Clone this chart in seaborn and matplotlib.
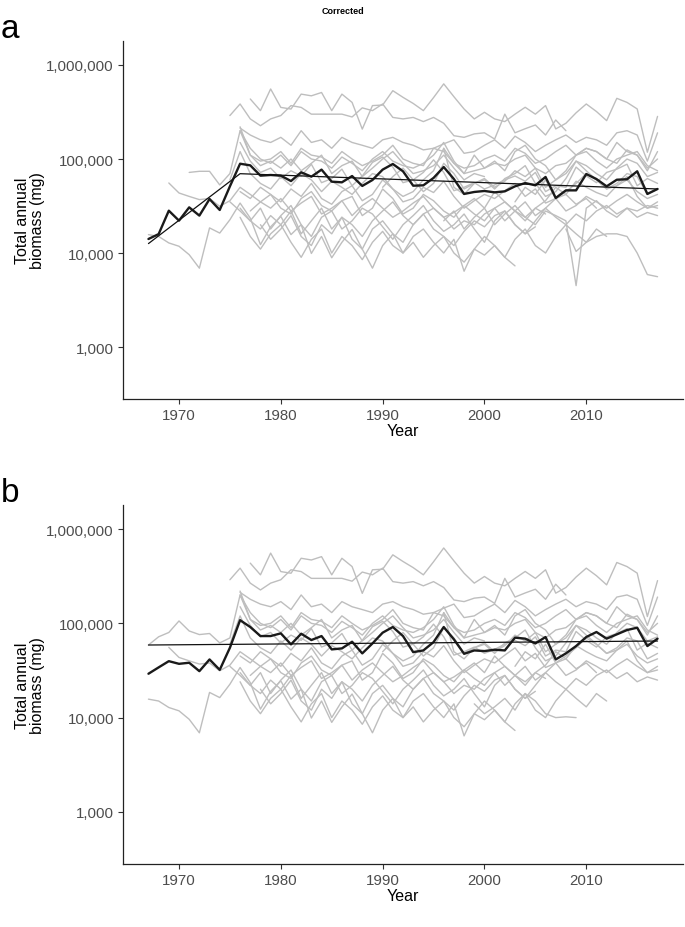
import numpy as np
import pandas as pd
import matplotlib
matplotlib.use("Agg")
import matplotlib.pyplot as plt
import seaborn as sns
from matplotlib.ticker import FuncFormatter, FixedLocator

sns.set_theme(style="ticks")
plt.rcParams['font.family'] = ['Liberation Sans', 'DejaVu Sans']

# ---------------- data ----------------
mean_years = list(range(1967, 2018))
mean_a = [14100, 15900, 28200, 22100, 30600, 25000, 37500, 28700, 51200, 89100,
          85600, 66500, 67600, 66500, 58300, 72200, 64900, 77100, 57400, 56500,
          65900, 51700, 59800, 77100, 88500, 74000, 52000, 52500, 62900, 82200,
          61200, 42500, 44600, 45700, 44200, 45300, 51200, 55500, 52500, 64400,
          38500, 46400, 46400, 69200, 61200, 51200, 60200, 60900, 74000, 42500,
          48000]
mean_b = [29200, 34100, 39700, 37200, 38200, 31100, 41400, 32100, 55100, 108000,
          91400, 73300, 73300, 78300, 59800, 77600, 66500, 73300, 52900, 54200,
          63800, 48000, 61200, 79600, 91400, 73300, 49500, 51600, 63200, 91400,
          67600, 47500, 51600, 50800, 52500, 51600, 70500, 68800, 61200, 71600,
          41400, 48000, 57400, 71600, 80900, 68800, 76400, 84900, 89900, 57400,
          68800]
trend_a_years = [1967, 1976, 2017]
trend_a_vals = [12600, 69800, 48000]
trend_b_years = [1967, 2017]
trend_b_vals = [58900, 64900]

# site series (thousand mg), first year then yearly values
s01 = [435, 327, 556, 354, 340, 490, 470, 510, 327, 490, 400, 208, 370, 375, 533,
       453, 390, 327, 450, 630, 460, 340, 267, 314, 267, 250, 300, 355, 300, 370,
       209, 240, 310, 385, 320, 256, 442, 400, 341, 118, 284]
s02 = [290, 385, 267, 226, 267, 290, 370, 354, 300, 300, 300, 300, 280, 350, 327,
       385, 277, 267, 277, 250, 277, 240, 177, 170, 185, 190, 163, 300, 190, 210,
       230, 180, 260, 200]
s03 = [213, 180, 160, 150, 170, 140, 200, 150, 160, 130, 170, 150, 140, 130, 160,
       170, 150, 140, 125, 130, 145, 160, 115, 120, 140, 160, 130, 175, 150, 120,
       140, 160, 180, 150, 170, 160, 140, 190, 200, 180, 95, 190]
s04 = [220, 110, 95, 100, 120, 90, 130, 110, 105, 90, 120, 100, 85, 95, 110,
       140, 100, 90, 85, 130, 120, 90, 80, 85, 100, 110, 95, 130, 115, 90,
       100, 120, 140, 110, 130, 120, 100, 150, 120, 110, 80, 100]
s05 = [150, 95, 72, 80, 62, 75, 66, 88, 56, 62, 78, 52, 66, 92, 105, 82, 56, 60,
       72, 98, 72, 46, 50, 56, 48, 53, 60, 66, 58, 72, 45, 52, 50, 82, 66, 56, 72,
       78, 88, 52, 62, 55]
s06 = [60, 120, 70, 55, 48, 65, 52, 70, 60, 45, 58, 50, 42, 55, 70, 65, 48, 40,
       45, 60, 75, 130, 50, 42, 55, 60, 48, 62, 70, 85, 55, 40, 45, 62, 95, 75,
       60, 48, 55, 70, 65, 42, 48]
s07 = [45, 38, 50, 42, 35, 48, 40, 55, 38, 33, 45, 52, 36, 42, 60, 48, 35, 38,
       50, 44, 58, 40, 30, 36, 42, 38, 46, 55, 40, 48, 34, 38, 42, 58, 50, 44,
       40, 52, 60, 45, 38, 42]
s08 = [28, 35, 42, 30, 26, 38, 45, 32, 28, 36, 40, 25, 30, 48, 38, 26, 30, 42,
       36, 28, 24, 32, 38, 30, 45, 35, 28, 22, 30, 36, 50, 42, 33, 38, 30]
s09 = [30, 22, 18, 25, 20, 28, 16, 22, 30, 18, 24, 20, 15, 22, 28, 35, 25, 20,
       26, 30, 24, 18, 22, 20, 26, 30, 22, 28, 35, 25, 30, 38, 28, 32, 40, 35,
       30, 36, 42, 35, 30, 32]
s10 = [20, 14, 18, 25, 15, 12, 20, 16, 24, 14, 11, 18, 22, 16, 13, 20, 26, 18,
       15, 12, 17, 22, 19, 25, 28, 20, 16, 22, 30, 24, 20, 26, 22, 28, 32, 26,
       30, 24, 27, 25]
s11 = [35, 28, 22, 30, 18, 25, 32, 20, 15, 24, 28, 18, 22, 30, 26, 19, 14, 20,
       25, 32, 22, 17, 20, 26, 18, 13, 22, 28, 20, 16, 19]
s12 = [24, 15, 11, 16, 20, 13, 9, 14, 18, 10, 15, 12, 8.5, 13, 17, 12, 10, 15,
       18, 13, 10, 14, 6.4, 11, 15, 12, 9, 14, 18, 12, 10, 15, 20, 16, 13, 18, 15]
s13 = [15.7, 15.0, 12.8, 11.8, 9.6, 6.9, 18.5, 16.3, 22.6, 34, 23.5, 12.3, 19,
       24.5, 15.7, 20, 9.9, 15, 8.9, 13, 17.8, 11, 6.9, 12, 16, 10, 13, 9, 12,
       15, 10, 8, 11, 9.5, 12, 9, 7.3]
s14 = [55.6, 43.5, 40, 37, 38, 31.4, 36, 50, 42, 35, 30, 38, 28, 34, 40, 26, 30,
       36, 25, 32, 38, 30, 24, 28, 34, 40, 30, 24, 27, 32, 26, 22, 30, 35, 28,
       24, 30, 26]
s15 = [72, 74, 74, 53, 70, 200, 110, 85, 95, 80, 100, 75, 90, 110, 70, 85, 95,
       65, 80, 100, 120, 90, 70, 75, 85, 110, 80, 60, 70, 65]
s15b = [58.9, 72, 80, 106, 83, 76, 78, 62, 70, 200, 110, 85, 95, 80, 100, 75, 90,
        110, 70, 85, 95, 65, 80, 100, 120, 90, 70, 75, 85, 110, 80, 60, 70, 65]
s16 = [50, 65, 80, 60, 45, 55, 90, 70, 48, 55, 62, 50, 58, 75, 65, 80, 50, 60,
       70, 95, 85, 70, 60, 80, 100, 90, 65, 72]
s17 = [130, 90, 70, 110, 80, 95, 75, 120, 140, 100, 85, 60, 75, 110, 130, 120,
       100, 90, 125, 110, 75, 120]
s18 = [35, 50, 42, 60, 38, 45, 55, 70, 60, 48, 52, 65, 40, 30, 35]
s19 = [200, 130, 100, 90, 110, 85, 120, 100, 95, 80, 105, 90, 75, 100, 120, 95,
       85, 80, 90, 110, 150, 95, 70, 75, 80, 90, 85, 100, 110, 80, 70, 85, 90,
       110, 120, 95, 80, 100, 110, 120, 85, 75]
s20a = [22, 28, 18, 24, 30, 20, 26, 32, 24, 20, 28, 25, 22, 4.5, 30, 36, 28, 24,
        30, 28, 32, 30]
s21a = [18, 10.4, 13, 15, 16, 16, 15, 10, 5.9, 5.6]
s21b = [14, 11, 13, 16, 12, 18, 15, 11, 10, 10.2, 10]

sites_a = [(1977, s01), (1975, s02), (1976, s03), (1976, s04), (1976, s05),
           (1975, s06), (1976, s07), (1977, s08), (1976, s09), (1978, s10),
           (1975, s11), (1976, s12), (1967, s13), (1969, s14), (1971, s15),
           (1990, s16), (1996, s17), (2003, s18), (1976, s19), (1996, s20a),
           (2008, s21a)]
sites_b = [(1977, s01), (1975, s02), (1976, s03), (1976, s04), (1976, s05),
           (1975, s06), (1976, s07), (1977, s08), (1976, s09), (1978, s10),
           (1975, s11), (1976, s12), (1967, s13), (1969, s14), (1967, s15b),
           (1990, s16), (1996, s17), (2003, s18), (1976, s19), (1999, s21b)]

x_ticks = [1970, 1980, 1990, 2000, 2010]
y_ticks = [1000, 10000, 100000, 1000000]


def site_frame(series):
    rows = []
    for i, (start, vals) in enumerate(series):
        for k, v in enumerate(vals):
            rows.append((f"site{i}", start + k, v * 1000.0))
    return pd.DataFrame(rows, columns=["site", "year", "biomass"])


W, H = 685, 928
fig = plt.figure(figsize=(W / 100, H / 100), dpi=100)

panels = [
    ("a", sites_a, mean_a, trend_a_years, trend_a_vals, 42, 400),
    ("b", sites_b, mean_b, trend_b_years, trend_b_vals, 506, 865),
]

for label, sites, mvals, tyears, tvals, top_px, bot_px in panels:
    ax = fig.add_axes([123 / W, 1 - bot_px / H, (683 - 123) / W, (bot_px - top_px) / H])
    df = site_frame(sites)
    sns.lineplot(data=df, x="year", y="biomass", units="site", estimator=None,
                 color="#BEBEBE", linewidth=1.0, ax=ax, legend=False)
    sns.lineplot(x=mean_years, y=mvals, color="#1A1A1A", linewidth=1.7, ax=ax)
    sns.lineplot(x=tyears, y=tvals, color="#111111", linewidth=0.9, ax=ax)
    ax.set_yscale("log")
    ax.set_ylim(280, 1.8e6)
    ax.set_xlim(1964.5, 2019.5)
    ax.xaxis.set_major_locator(FixedLocator(x_ticks))
    ax.yaxis.set_major_locator(FixedLocator(y_ticks))
    ax.yaxis.set_minor_locator(FixedLocator([]))
    ax.yaxis.set_major_formatter(FuncFormatter(lambda v, p: f"{int(round(v)):,}"))
    ax.xaxis.set_major_formatter(FuncFormatter(lambda v, p: f"{int(v)}"))
    ax.set_xlabel("")
    ax.set_ylabel("")
    for s in ["top", "right"]:
        ax.spines[s].set_visible(False)
    for s in ["left", "bottom"]:
        ax.spines[s].set_color("#222222")
        ax.spines[s].set_linewidth(0.9)
    ax.tick_params(axis="both", which="major", length=3.5, width=0.8, color="#333333",
                   labelsize=10.8, labelcolor="#4D4D4D", pad=3)
    ax.grid(False)

    cy = 1 - ((top_px + bot_px) / 2) / H
    fig.text(30 / W, cy, "Total annual\nbiomass (mg)", rotation=90, ha="center",
             va="center", fontsize=11.5, color="black", linespacing=1.0)
    fig.text(403 / W, 1 - (bot_px + 32) / H, "Year", ha="center", va="center",
             fontsize=11.5, color="black")
    fig.text(1 / W, 1 - (top_px - 12) / H, label, ha="left", va="center",
             fontsize=24, color="black")

fig.text(0.5, 1 - 12 / H, "Corrected", ha="center", va="center", fontsize=6.5,
         fontweight="bold", color="black")

fig.savefig("out.png", dpi=100)
